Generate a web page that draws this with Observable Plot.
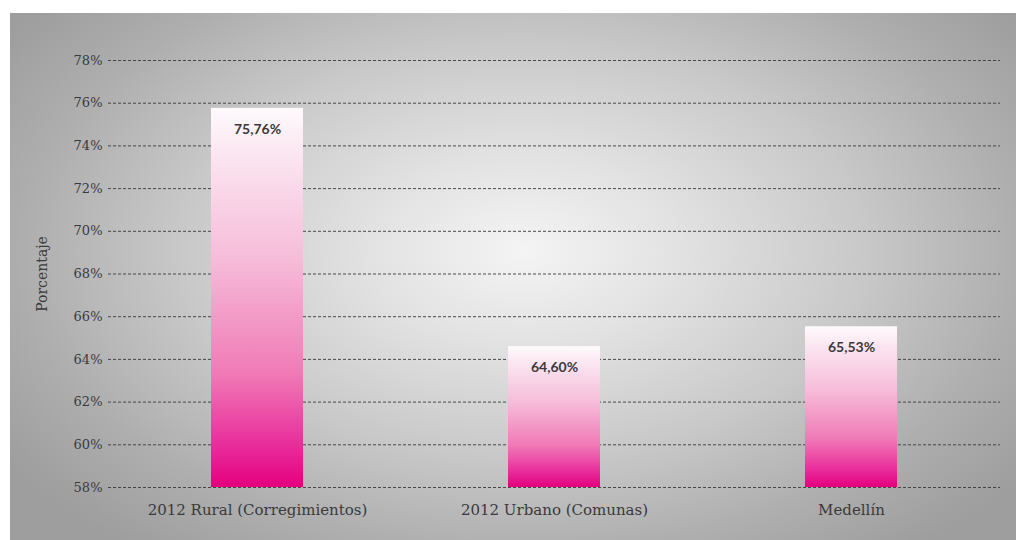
<!DOCTYPE html>
<html>
<head>
<meta charset="utf-8">
<script src="https://cdn.jsdelivr.net/npm/d3@7"></script>
<script src="https://cdn.jsdelivr.net/npm/@observablehq/plot@0.6"></script>
<style>
  html, body { margin: 0; padding: 0; background: #ffffff; }
  #wrap { position: relative; width: 1016px; height: 540px; overflow: hidden; }
  #panel {
    position: absolute; left: 10px; top: 13px; right: 0; bottom: 0;
    background: radial-gradient(ellipse 62% 72% at 51% 45%, #f4f4f4 0%, #e2e2e2 25%, #c8c8c8 55%, #aeaeae 80%, #9e9e9e 100%);
  }
  #chart { position: absolute; left: 0; top: 0; }
  #chart svg { background: transparent; display: block; }
</style>
</head>
<body>
<div id="wrap">
  <div id="panel"></div>
  <div id="chart"></div>
</div>
<script>
const categories = ["2012 Rural (Corregimientos)", "2012 Urbano (Comunas)", "Medellín"];
const values = [75.76, 64.60, 65.53];
const yTicks = [58, 60, 62, 64, 66, 68, 70, 72, 74, 76, 78];
const yLabel = "Porcentaje";

const data = categories.map((c, i) => ({category: c, value: values[i]}));
const fmt = v => v.toFixed(2).replace(".", ",") + "%";

const serif = "'DejaVu Serif', serif";

const chart = Plot.plot({
  width: 1016,
  height: 540,
  marginLeft: 108,
  marginRight: 16,
  marginTop: 60,
  marginBottom: 53,
  style: {background: "transparent", fontFamily: serif, color: "#333"},
  x: {domain: categories, paddingInner: 0.69, paddingOuter: 0.345, label: null},
  y: {domain: [58, 78], label: null},
  marks: [
    Plot.gridY(yTicks, {stroke: "#3a3a3a", strokeOpacity: 0.9, strokeDasharray: "3,2", strokeWidth: 1}),
    Plot.barY(data, {x: "category", y1: 58, y2: "value", fill: "url(#pinkgrad)"}),
    Plot.text(data, {x: "category", y: "value", text: d => fmt(d.value), dy: 21,
      fontFamily: "'Lato', sans-serif", fontWeight: "bold", fontSize: 14, fill: "#3a3a3a"}),
    Plot.axisY(yTicks, {tickSize: 0, tickPadding: 6, tickFormat: d => d + "%", fontSize: 13, fontFamily: serif, fill: "#3a3a3a", label: null}),
    Plot.axisX({tickSize: 0, tickPadding: 17, fontSize: 15, fontFamily: serif, fill: "#3a3a3a", label: null}),
    Plot.text([yLabel], {frameAnchor: "left", dx: -66, rotate: -90, textAnchor: "middle", fontSize: 14, fontFamily: serif, fill: "#3a3a3a"})
  ]
});

const svg = d3.select(chart);
const defs = svg.insert("defs", ":first-child");
const grad = defs.append("linearGradient")
  .attr("id", "pinkgrad").attr("x1", 0).attr("y1", 0).attr("x2", 0).attr("y2", 1);
[["0%", "#fefafc"], ["12%", "#fbe6f1"], ["40%", "#f6bcd9"], ["70%", "#f07ab6"], ["90%", "#e8299a"], ["100%", "#e4007c"]]
  .forEach(([o, c]) => grad.append("stop").attr("offset", o).attr("stop-color", c));

document.getElementById("chart").appendChild(chart);
</script>
</body>
</html>
